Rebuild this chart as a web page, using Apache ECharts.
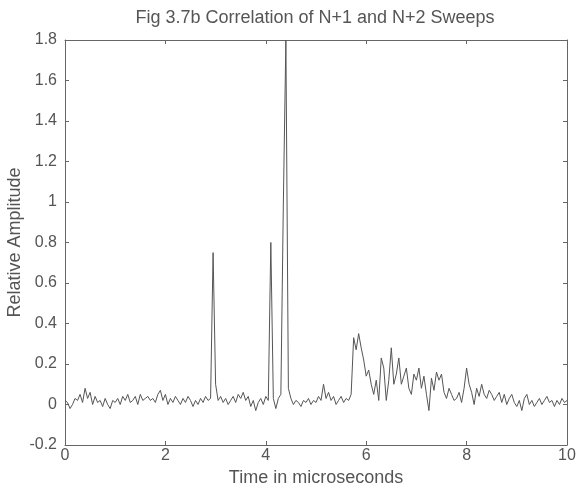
<!DOCTYPE html>
<html>
<head>
<meta charset="utf-8">
<script src="https://cdn.jsdelivr.net/npm/echarts@6/dist/echarts.min.js"></script>
<style>
  html, body { margin: 0; padding: 0; background: #fff; }
  #chart { width: 578px; height: 495px; }
</style>
</head>
<body>
<div id="chart"></div>
<script>
// Sample spacing of the correlation trace, in microseconds
const samplePeriod = 0.05;

// Correlation amplitude, one value per sample starting at t = 0
const amplitude = [
  0.02, 0.01, -0.02, 0.00, 0.03, 0.02, 0.05, 0.01, 0.08, 0.03,
  0.06, 0.00, 0.04, 0.01, 0.02, -0.01, 0.03, 0.00, -0.02, 0.02,
  0.01, 0.03, 0.00, 0.04, 0.02, 0.05, 0.01, 0.02, 0.04, 0.00,
  0.05, 0.02, 0.03, 0.04, 0.02, 0.03, 0.01, 0.05, 0.07, 0.02,
  0.05, 0.00, 0.03, 0.01, 0.04, 0.02, 0.00, 0.03, 0.01, 0.04,
  0.02, -0.01, 0.02, 0.00, 0.03, 0.01, 0.04, 0.02, 0.03, 0.75,
  0.10, 0.02, 0.04, 0.01, 0.03, 0.00, 0.02, 0.04, 0.01, 0.05,
  0.03, 0.06, 0.02, 0.04, -0.01, 0.02, -0.03, 0.01, 0.03, 0.00,
  0.04, 0.02, 0.80, 0.03, -0.02, 0.03, 0.05, 1.00, 1.80, 0.08,
  0.03, 0.00, 0.02, 0.01, -0.01, 0.02, 0.01, 0.03, 0.00, 0.02,
  0.01, 0.04, 0.02, 0.10, 0.03, 0.06, 0.02, 0.04, 0.00, 0.02,
  0.04, 0.01, 0.03, 0.02, 0.05, 0.33, 0.27, 0.35, 0.28, 0.22,
  0.14, 0.17, 0.10, 0.05, 0.12, 0.02, 0.23, 0.18, 0.02, 0.12,
  0.28, 0.10, 0.15, 0.23, 0.10, 0.14, 0.18, 0.08, 0.05, 0.15,
  0.12, 0.18, 0.08, 0.14, 0.05, -0.03, 0.13, 0.07, 0.16, 0.12,
  0.15, 0.06, 0.03, 0.08, 0.05, 0.02, 0.03, 0.06, 0.01, 0.08,
  0.18, 0.10, 0.06, 0.00, 0.08, 0.04, 0.10, 0.05, 0.03, 0.07,
  0.05, 0.02, 0.04, 0.06, 0.01, 0.05, 0.00, 0.03, 0.05, 0.01,
  -0.01, 0.02, -0.03, 0.03, 0.05, 0.00, 0.02, -0.01, 0.01, 0.03,
  0.00, 0.02, 0.04, 0.01, 0.02, -0.01, 0.02, 0.00, 0.03, 0.01,
  0.02
];

// Axis ranges and tick spacing
const xRange = [0, 10];
const xStep = 2;
const yRange = [-0.2, 1.8];
const yStep = 0.2;

const titleText = 'Fig 3.7b Correlation of N+1 and N+2 Sweeps';
const xName = 'Time in microseconds';
const yName = 'Relative Amplitude';

const traceData = amplitude.map((v, i) => [+(i * samplePeriod).toFixed(2), v]);

const textColor = '#555';
const frameColor = '#666';
const font = 'Liberation Sans, Arial, sans-serif';

const fmtY = v => String(Math.round(v * 10) / 10);

const frameAxis = {
  axisLine: { show: true, onZero: false, lineStyle: { color: frameColor, width: 1 } },
  axisTick: { show: true, inside: true, length: 4, lineStyle: { color: frameColor } },
  splitLine: { show: false }
};

const chart = echarts.init(document.getElementById('chart'), null, { renderer: 'canvas' });
chart.setOption({
  backgroundColor: '#fff',
  animation: false,
  title: {
    text: titleText,
    left: 310,
    textAlign: 'center',
    top: 4,
    textStyle: { color: textColor, fontSize: 18, fontWeight: 'normal', fontFamily: font }
  },
  grid: {
    left: 65, right: 11, top: 40, bottom: 50,
    containLabel: false,
    outerBoundsMode: 'none'
  },
  xAxis: [
    Object.assign({
      type: 'value', min: xRange[0], max: xRange[1], interval: xStep,
      position: 'bottom',
      name: xName, nameLocation: 'middle', nameGap: 24, nameMoveOverlap: false,
      nameTextStyle: { color: textColor, fontSize: 18, fontFamily: font },
      axisLabel: { color: textColor, fontSize: 16, fontFamily: font, margin: 3 }
    }, frameAxis),
    Object.assign({
      type: 'value', min: xRange[0], max: xRange[1], interval: xStep,
      position: 'top', axisLabel: { show: false }
    }, frameAxis)
  ],
  yAxis: [
    Object.assign({
      type: 'value', min: yRange[0], max: yRange[1], interval: yStep,
      position: 'left',
      name: yName, nameLocation: 'middle', nameGap: 41, nameRotate: 90, nameMoveOverlap: false,
      nameTextStyle: { color: textColor, fontSize: 18, fontFamily: font },
      axisLabel: { color: textColor, fontSize: 16, fontFamily: font, margin: 8, formatter: fmtY }
    }, frameAxis),
    Object.assign({
      type: 'value', min: yRange[0], max: yRange[1], interval: yStep,
      position: 'right', axisLabel: { show: false }
    }, frameAxis)
  ],
  series: [{
    type: 'line',
    data: traceData,
    xAxisIndex: 0,
    yAxisIndex: 0,
    showSymbol: false,
    lineStyle: { color: '#555', width: 1 },
    clip: true
  }]
});
</script>
</body>
</html>
